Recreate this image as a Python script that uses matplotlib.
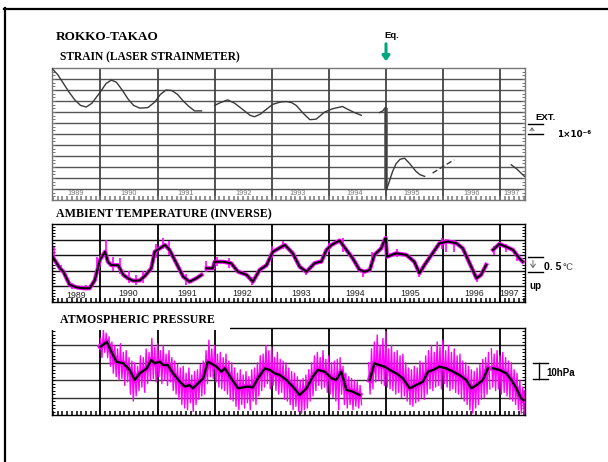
import numpy as np
import matplotlib
matplotlib.use("Agg")
import matplotlib.pyplot as plt
from matplotlib.lines import Line2D
from matplotlib.patches import FancyArrowPatch
from matplotlib.ticker import MultipleLocator

W, H = 608, 462
XMIN, XMAX = 1989.15, 1997.44
year_lines = [1990, 1991, 1992, 1993, 1994, 1995, 1996, 1997]
year_labels = ["1989", "1990", "1991", "1992", "1993", "1994", "1995", "1996", "1997"]
NAN = np.nan

# strain, units of 1e-6 (NaN = gap in record)
strain_t = [1989.16, 1989.25, 1989.35, 1989.45, 1989.55, 1989.65, 1989.75, 1989.85, 1990.00,
            1990.10, 1990.19, 1990.28, 1990.38, 1990.48, 1990.58, 1990.69, 1990.83, 1990.95,
            1991.05, 1991.15, 1991.25, 1991.35, 1991.45, 1991.55, 1991.65, 1991.77, NAN,
            1992.00, 1992.10, 1992.23, 1992.35, 1992.50, 1992.62, 1992.70, 1992.80, 1992.92,
            1993.02, 1993.15, 1993.26, 1993.35, 1993.43, 1993.55, 1993.67, 1993.78, 1993.93,
            1994.07, 1994.24, 1994.35, 1994.45, 1994.57, NAN,
            1994.89, 1994.95, 1994.98, 1995.00, 1995.01, 1995.05, 1995.12, 1995.18, 1995.25,
            1995.33, 1995.42, 1995.53, 1995.60, 1995.68, NAN,
            1997.20, 1997.30, 1997.43]
strain_v = [11.9, 11.4, 10.6, 9.8, 9.1, 8.6, 8.45, 8.8, 9.85,
            10.6, 10.9, 10.7, 10.0, 9.2, 8.6, 8.35, 8.4, 8.9,
            9.6, 10.0, 9.95, 9.6, 9.0, 8.5, 8.1, 8.1, NAN,
            8.6, 8.85, 9.1, 8.8, 8.2, 7.7, 7.57, 7.8, 8.3,
            8.7, 8.9, 8.95, 8.85, 8.6, 7.9, 7.3, 7.35, 8.0,
            8.3, 8.5, 8.2, 7.95, 7.7, NAN,
            7.95, 8.1, 8.35, 8.4, 0.9, 1.5, 2.6, 3.3, 3.7,
            3.8, 3.3, 2.6, 2.3, 2.15, NAN,
            3.2, 2.8, 2.15]
strain_dash_t = [1995.82, 1995.99, 1996.10, 1996.20]
strain_dash_v = [2.45, 3.0, 3.35, 3.65]

# ambient temperature (inverse), deg C, smoothed
temp_t = [1989.16, 1989.29, 1989.35, 1989.46, 1989.58, 1989.70, 1989.81, 1989.90, 1989.99,
          1990.08, 1990.13, 1990.19, 1990.31, 1990.40, 1990.48, 1990.57, 1990.69, 1990.78,
          1990.89, 1990.95, 1991.13, 1991.21, 1991.33, 1991.45, 1991.56, 1991.68, 1991.77, NAN,
          1991.86, 1991.97, 1992.00, 1992.15, 1992.29, 1992.41, 1992.56, 1992.67, 1992.79,
          1992.91, 1993.02, 1993.23, 1993.37, 1993.49, 1993.61, 1993.75, 1993.84, 1993.87,
          1993.96, 1994.05, 1994.19, 1994.31, 1994.42, 1994.54, 1994.63, 1994.72, 1994.80,
          1994.92, 1994.98, 1995.00, 1995.02, 1995.18, 1995.36, 1995.50, 1995.59, 1995.68,
          1995.80, 1995.94, 1996.09, 1996.24, 1996.35, 1996.47, 1996.59, 1996.67, 1996.76, NAN,
          1996.88, 1996.99, 1997.11, 1997.23, 1997.34, 1997.40]
temp_v = [1.45, 1.08, 0.97, 0.55, 0.47, 0.44, 0.44, 0.70, 1.35,
          1.61, 1.29, 1.18, 1.18, 0.87, 0.76, 0.68, 0.69, 0.84,
          1.08, 1.61, 1.83, 1.67, 1.24, 0.81, 0.65, 0.76, 0.87, NAN,
          1.08, 1.08, 1.29, 1.29, 1.24, 0.97, 0.87, 0.65, 1.03,
          1.18, 1.61, 1.83, 1.56, 1.13, 0.97, 1.24, 1.29, 1.29,
          1.67, 1.83, 1.97, 1.67, 1.40, 1.03, 0.97, 1.03, 1.51,
          1.72, 1.99, 2.05, 1.45, 1.56, 1.51, 1.29, 0.92, 1.19,
          1.51, 1.88, 1.94, 1.88, 1.72, 1.24, 0.76, 0.87, 1.19, NAN,
          1.67, 1.86, 1.77, 1.67, 1.40, 1.29]
# raw temperature excursions (time, low, high)
temp_raw_t = [1989.18, 1989.30, 1989.50, 1989.75, 1989.93, 1990.10, 1990.22, 1990.35, 1990.50,
              1990.62, 1990.75, 1990.98, 1991.10, 1991.20, 1991.50, 1991.85, 1992.05, 1992.25,
              1992.65, 1993.00, 1993.20, 1993.60, 1994.00, 1994.25, 1994.60, 1994.75, 1995.20,
              1995.58, 1995.98, 1996.06, 1996.20, 1996.60, 1996.90, 1997.10, 1997.30]
temp_raw_lo = [1.3, 0.95, 0.42, 0.38, 0.8, 1.4, 1.0, 0.9, 0.6,
               0.55, 0.6, 1.4, 1.7, 1.5, 0.55, 0.95, 1.15, 1.1,
               0.55, 1.4, 1.7, 0.85, 1.6, 1.6, 0.8, 1.2, 1.45,
               0.8, 1.7, 1.6, 1.6, 0.65, 1.5, 1.6, 1.3]
temp_raw_hi = [1.75, 1.2, 0.62, 0.55, 1.45, 2.0, 1.45, 1.4, 1.0,
               0.85, 1.0, 1.85, 2.05, 1.95, 0.9, 1.3, 1.45, 1.4,
               0.8, 1.8, 1.95, 1.05, 1.9, 2.05, 1.05, 1.6, 1.7,
               1.0, 2.05, 2.02, 2.0, 0.85, 1.8, 1.85, 1.55]

# atmospheric pressure, hPa (relative), smoothed
pres_t = [1990.00, 1990.08, 1990.11, 1990.19, 1990.28, 1990.40, 1990.51, 1990.60, 1990.69,
          1990.81, 1990.89, 1990.95, 1991.04, 1991.10, 1991.18, 1991.27, 1991.39, 1991.48,
          1991.56, 1991.62, 1991.71, 1991.80, 1991.88, 1991.94, 1992.03, 1992.12, 1992.18,
          1992.29, 1992.41, 1992.50, 1992.59, 1992.67, 1992.76, 1992.88, 1992.97, 1993.05,
          1993.14, 1993.26, 1993.37, 1993.49, 1993.61, 1993.72, 1993.81, 1993.93, 1994.05,
          1994.13, 1994.22, 1994.31, 1994.42, 1994.54, NAN,
          1994.72, 1994.80, 1994.89, 1994.98, 1995.07, 1995.18, 1995.30, 1995.42, 1995.53,
          1995.65, 1995.74, 1995.83, 1995.94, 1996.06, 1996.18, 1996.29, 1996.41, 1996.50,
          1996.59, 1996.70, 1996.79, NAN,
          1996.88, 1996.99, 1997.11, 1997.20, 1997.29, 1997.37, 1997.41]
pres_v = [39.3, 41.2, 42.1, 36.4, 30.6, 29.7, 25.9, 20.1, 24.0,
          26.8, 31.6, 29.7, 30.6, 28.7, 28.7, 24.0, 19.1, 16.3,
          17.2, 15.3, 18.2, 21.1, 30.6, 29.7, 27.8, 24.9, 26.8,
          21.1, 15.3, 15.9, 16.3, 15.9, 21.1, 26.8, 25.9, 24.0,
          23.0, 20.1, 16.3, 11.5, 15.3, 22.0, 25.9, 24.9, 21.1,
          20.1, 24.9, 14.4, 13.4, 11.5, NAN,
          20.1, 29.7, 28.7, 27.8, 25.9, 24.0, 21.1, 15.3, 17.2,
          19.1, 24.9, 25.9, 27.8, 26.8, 24.9, 23.0, 20.1, 15.3,
          17.2, 20.1, 26.8, NAN,
          26.8, 25.9, 24.0, 20.1, 15.3, 9.6, 8.6]

# raw pressure, high / low excursion per sample
pres_raw_t = [1990.00, 1990.05, 1990.10, 1990.15, 1990.20, 1990.25, 1990.30, 1990.35, 1990.40, 1990.45,
              1990.50, 1990.55, 1990.60, 1990.65, 1990.70, 1990.75, 1990.80, 1990.85, 1990.90, 1990.95,
              1991.00, 1991.05, 1991.10, 1991.15, 1991.20, 1991.25, 1991.30, 1991.35, 1991.40, 1991.45,
              1991.50, 1991.55, 1991.60, 1991.65, 1991.70, 1991.75, 1991.80, 1991.85, 1991.90, 1991.95,
              1992.00, 1992.05, 1992.10, 1992.15, 1992.20, 1992.25, 1992.30, 1992.35, 1992.40, 1992.45,
              1992.50, 1992.55, 1992.60, 1992.65, 1992.70, 1992.75, 1992.80, 1992.85, 1992.90, 1992.95,
              1993.00, 1993.05, 1993.10, 1993.15, 1993.20, 1993.25, 1993.30, 1993.35, 1993.40, 1993.45,
              1993.50, 1993.55, 1993.60, 1993.65, 1993.70, 1993.75, 1993.80, 1993.85, 1993.90, 1993.95,
              1994.00, 1994.05, 1994.10, 1994.15, 1994.20, 1994.25, 1994.30, 1994.35, 1994.40, 1994.45,
              1994.50, 1994.55, NAN,
              1994.70, 1994.75, 1994.80, 1994.85, 1994.90, 1994.95, 1995.00, 1995.05, 1995.10, 1995.15,
              1995.20, 1995.25, 1995.30, 1995.35, 1995.40, 1995.45, 1995.50, 1995.55, 1995.60, 1995.65,
              1995.70, 1995.75, 1995.80, 1995.85, 1995.90, 1995.95, 1996.00, 1996.05, 1996.10, 1996.15,
              1996.20, 1996.25, 1996.30, 1996.35, 1996.40, 1996.45, 1996.50, 1996.55, 1996.60, 1996.65,
              1996.70, 1996.75, 1996.80, NAN,
              1996.85, 1996.90, 1996.95, 1997.00, 1997.05, 1997.10, 1997.15, 1997.20, 1997.25, 1997.30,
              1997.35, 1997.40, 1997.43]
pres_raw_hi = [44, 49, 47, 45, 42, 40, 38, 41, 36, 37,
               33, 31, 30, 28, 34, 33, 38, 36, 44, 39,
               41, 37, 40, 35, 37, 33, 31, 29, 27, 28,
               24, 27, 23, 25, 26, 29, 31, 37, 43, 38,
               40, 35, 36, 33, 35, 31, 30, 27, 24, 26,
               23, 25, 22, 26, 27, 30, 34, 35, 40, 37,
               39, 33, 36, 32, 31, 30, 27, 25, 24, 22,
               20, 21, 23, 26, 30, 34, 36, 33, 37, 32,
               34, 30, 31, 32, 33, 28, 24, 22, 21, 20,
               19, 17, NAN,
               30, 38, 42, 46, 40, 44, 48, 38, 40, 36,
               37, 34, 35, 30, 27, 26, 28, 27, 31, 30,
               34, 37, 40, 36, 42, 39, 43, 37, 40, 36,
               38, 34, 35, 31, 30, 28, 26, 25, 27, 29,
               32, 33, 36, NAN,
               38, 35, 37, 34, 36, 33, 31, 30, 26, 24,
               20, 16, 14]
pres_raw_lo = [33, 36, 33, 28, 24, 22, 20, 21, 17, 19,
               12, 8, 11, 14, 16, 13, 18, 20, 21, 19,
               22, 18, 20, 17, 19, 14, 12, 9, 6, 4,
               3, 7, 2, 6, 9, 11, 12, 18, 22, 21,
               19, 16, 15, 14, 12, 9, 8, 5, 3, 6,
               4, 7, 3, 8, 6, 11, 14, 16, 18, 15,
               17, 14, 12, 13, 9, 8, 6, 3, 5, 2,
               1, 3, 4, 8, 11, 14, 17, 15, 16, 13,
               12, 10, 8, 3, 12, 6, 4, 6, 3, 5,
               4, 6, NAN,
               12, 15, 19, 20, 18, 17, 16, 15, 14, 12,
               13, 10, 11, 8, 6, 5, 7, 8, 10, 9,
               12, 15, 14, 16, 17, 15, 18, 16, 14, 15,
               13, 12, 10, 8, 6, 3, 1, 4, 6, 9,
               10, 12, 15, NAN,
               16, 14, 15, 12, 13, 11, 9, 8, 6, 3,
               1, 0, 0]


def px(x, y):
    return x / W, 1 - y / H


def panel(top, bottom, ylim, ystep, yminor, hcolor, vcolor, fcolor):
    ax = fig.add_axes([52 / W, 1 - bottom / H, (525 - 52) / W, (bottom - top) / H])
    ax.set_xlim(XMIN, XMAX)
    ax.set_ylim(*ylim)
    for yv in np.arange(ylim[0] + ystep, ylim[1] - 1e-6, ystep):
        ax.axhline(yv, color=hcolor, lw=1.0, zorder=1)
    for yr in year_lines:
        ax.axvline(yr, color=vcolor, lw=1.3, zorder=1)
    ax.set_xticks([])
    ax.set_yticks([])
    ax.xaxis.set_minor_locator(MultipleLocator(1 / 12))
    ax.yaxis.set_minor_locator(MultipleLocator(yminor))
    ax.tick_params(which="minor", direction="in", color=fcolor,
                   bottom=True, top=False, left=True, right=True,
                   labelbottom=False, labelleft=False)
    ax.tick_params(axis="x", which="minor", length=3, width=1.1)
    ax.tick_params(axis="y", which="minor", length=2.5, width=0.7)
    for s in ax.spines.values():
        s.set_color(fcolor)
        s.set_linewidth(1.0)
    return ax


fig = plt.figure(figsize=(W / 100, H / 100), dpi=100)

# outer frame
fig.add_artist(Line2D([4.5 / W, 4.5 / W], [0, 1 - 8 / H], color="black", lw=1.6))
fig.add_artist(Line2D([4 / W, 1], [1 - 8.5 / H, 1 - 8.5 / H], color="black", lw=1.6))

serif = ["Liberation Serif", "DejaVu Serif"]
sans = ["Liberation Sans", "DejaVu Sans"]

fig.text(*px(56, 37), "ROKKO-TAKAO", family=serif, weight="bold", fontsize=9.5, va="center")
fig.text(*px(60, 57), "STRAIN (LASER STRAINMETER)", family=serif, weight="bold", fontsize=8.3, va="center")
fig.text(*px(56, 214), "AMBIENT TEMPERATURE (INVERSE)", family=serif, weight="bold", fontsize=8.6, va="center")
fig.text(*px(60, 320), "ATMOSPHERIC PRESSURE", family=serif, weight="bold", fontsize=8.6, va="center")

# strain
ax1 = panel(68, 200, (0, 12), 1, 1 / 3, "#555555", "#444444", "#777777")
ax1.plot(strain_t, strain_v, color="#3a3a3a", lw=1.0, zorder=3)
ax1.plot(strain_dash_t, strain_dash_v, color="#3a3a3a", lw=1.0, ls=(0, (4, 2)), zorder=3)
ax1.vlines(1995.01, 0.9, 8.4, color="#555555", lw=2.6, zorder=2)
s_lab_x = [1989.57, 1990.5, 1991.5, 1992.5, 1993.45, 1994.45, 1995.45, 1996.5, 1997.2]
for lx, lab in zip(s_lab_x, year_labels):
    ax1.text(lx, 0.55, lab, ha="center", va="center", fontsize=5.2, color="#777777", family=sans)

# temperature
ax2 = panel(224, 302, (0, 2.5), 0.5, 0.1, "#111111", "#000000", "#000000")
ax2.vlines(temp_raw_t, temp_raw_lo, temp_raw_hi, color="#ff00ff", lw=1.2, zorder=2)
ax2.plot(temp_t, temp_v, color="#ff00ff", lw=3.0, zorder=2)
ax2.plot(temp_t, temp_v, color="black", lw=1.5, zorder=3)
t_lab_x = [1989.58, 1990.48, 1991.52, 1992.48, 1993.52, 1994.47, 1995.42, 1996.55, 1997.16]
for lx, lab in zip(t_lab_x, year_labels):
    ax2.text(lx, 0.22 if lab == "1989" else 0.27, lab, ha="center", va="center",
             fontsize=6.3, color="#222222", family=sans)

# pressure: raw record drawn as a sawtooth between highs and lows
ax3 = panel(328, 415, (0, 50), 10, 2, "#333333", "#000000", "#000000")
rt = np.array(pres_raw_t)
breaks = np.where(np.isnan(rt))[0]
for seg in np.split(np.arange(len(rt)), breaks):
    seg = [i for i in seg if not np.isnan(rt[i])]
    xs, ys = [], []
    for i in seg:
        xs += [rt[i], rt[i] + 0.025]
        ys += [pres_raw_hi[i], pres_raw_lo[i]]
    ax3.plot(xs, ys, color="#ff00ff", lw=1.0, zorder=2)
ax3.plot(pres_t, pres_v, color="#ff00ff", lw=4, zorder=2)
ax3.plot(pres_t, pres_v, color="black", lw=1.7, zorder=3)
fig.add_artist(Line2D([51 / W, 228 / W], [1 - 328 / H] * 2, color="white", lw=2.2))

# Eq. marker
fig.text(*px(392, 35), "Eq.", family=sans, weight="bold", fontsize=6.8, ha="center", va="center")
fig.add_artist(FancyArrowPatch(px(386, 41), px(386, 64), transform=fig.transFigure,
                               arrowstyle="-|>,head_length=3,head_width=2.2", lw=2.2,
                               color="#00a77e", mutation_scale=1))


# scale bars
def hline(x0, x1, y, c="black", lw=1.0):
    fig.add_artist(Line2D([x0 / W, x1 / W], [1 - y / H] * 2, color=c, lw=lw))


hline(528, 543, 124)
hline(528, 543, 134)
fig.add_artist(FancyArrowPatch(px(532, 134), px(532, 124.5), transform=fig.transFigure,
                               arrowstyle="->,head_length=2,head_width=1.5", lw=0.6,
                               color="#555555", mutation_scale=1))
fig.text(*px(535, 117), "EXT.", family=sans, weight="bold", fontsize=6.8, va="center")
fig.text(*px(557, 135), "1\u00d710\u207b\u2076", family=["DejaVu Sans"], weight="bold",
         fontsize=6.3, va="center")

hline(528, 543, 257)
hline(528, 543, 272)
fig.add_artist(FancyArrowPatch(px(533, 257.5), px(533, 271), transform=fig.transFigure,
                               arrowstyle="->,head_length=2.5,head_width=1.8", lw=0.6,
                               color="#555555", mutation_scale=1))
fig.text(*px(544, 267), "0. 5", family=sans, weight="bold", fontsize=7.5, va="center")
fig.text(*px(563, 267), "\u2103", family=["DejaVu Serif"], fontsize=6.5, va="center", color="#333333")
fig.text(*px(529, 286), "up", family=sans, weight="bold", fontsize=7, va="center")

hline(533, 548, 363)
hline(533, 548, 379)
fig.add_artist(Line2D([539 / W] * 2, [1 - 363 / H, 1 - 379 / H], color="black", lw=1.0))
fig.text(*px(546, 373), "10hPa", family=sans, weight="bold", fontsize=7, va="center")

fig.savefig("out.png", dpi=100)
